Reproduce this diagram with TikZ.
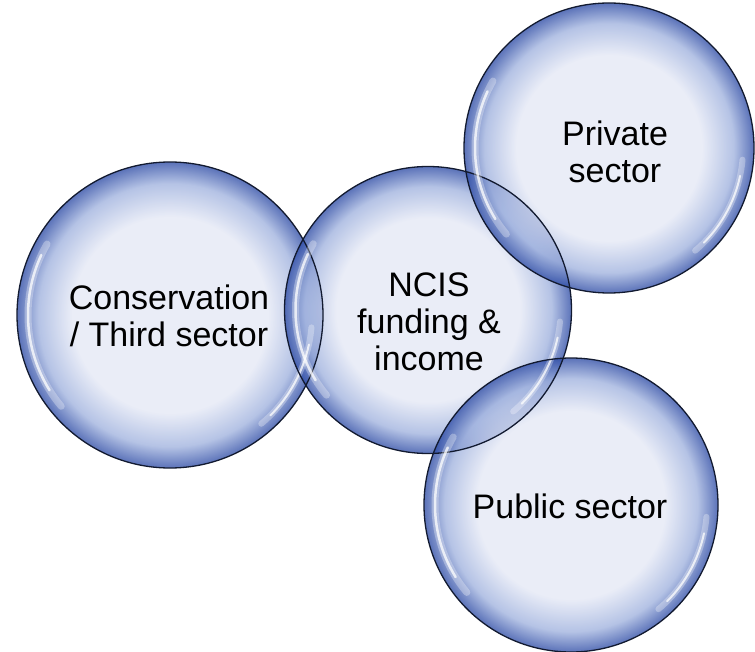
\documentclass[tikz,border=0pt]{standalone}
\usepackage{fontspec}
\setmainfont{Liberation Sans}
\usetikzlibrary{calc}

\definecolor{bubin}{RGB}{228,232,245}
\definecolor{bubmid}{RGB}{160,178,222}
\definecolor{bubout}{RGB}{45,75,165}
\definecolor{bubline}{RGB}{18,26,48}
\pgfdeclareradialshading{bubble}{\pgfpoint{0bp}{0bp}}{color(0bp)=(bubin); color(16bp)=(bubin); color(21.5bp)=(bubmid); color(25bp)=(bubout); color(50bp)=(bubout)}

\begin{document}
\begin{tikzpicture}[x=1pt, y=-1pt,
        bubble/.style={circle, inner sep=0pt, outer sep=0pt, shading=bubble,
            fill opacity=0.78},
        caption/.style={align=center, font=\fontsize{34}{37}\selectfont},
        rim/.style={line width=1.3pt, draw=bubline},
        shine/.style={white, line cap=round}]
        \useasboundingbox (0, 0) rectangle (755, 652);
        \node[bubble, minimum size=306pt] (cons) at (170, 315) {};
        \node[bubble, minimum size=287pt] (ncis) at (428, 310) {};
        \node[bubble, minimum size=290pt] (priv) at (609, 148) {};
        \node[bubble, minimum size=294pt] (pub) at (571, 505) {};
        % highlights
        \foreach \n/\r in {cons/153, ncis/143.5, priv/145, pub/147} {
            \draw[shine, line width=7pt, opacity=0.3] ($(\n.center)+(150:\r pt-11pt)$) arc[start angle=150, end angle=220, radius=\r pt-11pt];
            \draw[shine, line width=2.5pt, opacity=0.75] ($(\n.center)+(155:\r pt-11pt)$) arc[start angle=155, end angle=212, radius=\r pt-11pt];
            \draw[shine, line width=6pt, opacity=0.3] ($(\n.center)+(-50:\r pt-11pt)$) arc[start angle=-50, end angle=-5, radius=\r pt-11pt];
            \draw[shine, line width=2pt, opacity=0.75] ($(\n.center)+(-45:\r pt-11pt)$) arc[start angle=-45, end angle=-12, radius=\r pt-11pt];
            \draw[rim] (\n.center) circle[radius=\r pt];
        }
        \node[caption] (constxt) at (169, 316) {Conservation\\/ Third sector};
        \node[caption] (ncistxt) at (429, 322) {NCIS\\funding \&\\income};
        \node[caption] (privtxt) at (615, 152) {Private\\sector};
        \node[caption] (pubtxt) at (570, 506) {Public sector};
    \end{tikzpicture}
\end{document}
